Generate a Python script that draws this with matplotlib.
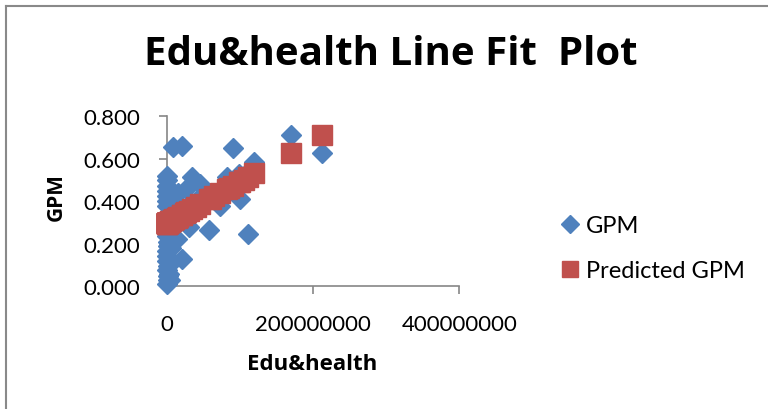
"""
Edu&health line fit plot (Excel style scatter with predicted values).
"""

import matplotlib
matplotlib.use('Agg')
from matplotlib import pyplot
from matplotlib.lines import Line2D

OUTPUT_FILE = 'out.png'
FIG_W_PX, FIG_H_PX = 768, 410
DPI = 100

BLUE = '#4F81BD'
RED = '#C0504D'
AXIS_GREY = '#868686'
FONT = ['Lato', 'DejaVu Sans']
BOLD_FONT = ['Open Sans', 'DejaVu Sans']

TITLE = 'Edu&health Line Fit  Plot'
X_LABEL = 'Edu&health'
Y_LABEL = 'GPM'
SERIES_NAMES = ['GPM', 'Predicted GPM']

X_TICKS = [0, 200000000, 400000000]
Y_TICKS = [0.0, 0.2, 0.4, 0.6, 0.8]

# Edu&health, in millions
edu_health_m = [
    0.5, 0.3, 1.0, 0.2, 0.8, 0.1, 0.6, 1.5, 0.4, 2.0, 1.2, 0.7, 3.0, 5.0,
    4.5, 8.2, 20.5, 91.0, 169.5, 212.0, 119.8, 99.0, 82.0, 34.0, 45.5,
    100.0, 73.0, 58.0, 110.7, 31.0, 20.5, 13.7, 27.0, 10.0, 15.0, 6.0,
    60.0, 65.0, 85.0, 105.0, 40.0, 25.0,
    0.3, 0.6, 0.2, 0.9, 0.4, 1.1, 0.5, 0.8, 0.3, 1.4,
]

gpm = [
    0.520, 0.473, 0.426, 0.379, 0.332, 0.285, 0.238, 0.191, 0.144, 0.097,
    0.050, 0.011, 0.060, 0.030, 0.411, 0.654, 0.662, 0.649, 0.712, 0.626,
    0.586, 0.528, 0.513, 0.513, 0.481, 0.411, 0.379, 0.265, 0.246, 0.278,
    0.128, 0.223, 0.458, 0.350, 0.440, 0.180, 0.430, 0.410, 0.470, 0.520,
    0.400, 0.330,
    0.500, 0.450, 0.400, 0.310, 0.260, 0.210, 0.165, 0.120, 0.075, 0.030,
]

predicted_gpm = [
    0.296, 0.296, 0.297, 0.295, 0.297, 0.295, 0.296, 0.298, 0.296, 0.299,
    0.297, 0.296, 0.301, 0.305, 0.304, 0.311, 0.335, 0.474, 0.629, 0.713,
    0.531, 0.490, 0.457, 0.362, 0.385, 0.492, 0.439, 0.409, 0.513, 0.356,
    0.335, 0.322, 0.348, 0.315, 0.325, 0.307, 0.413, 0.423, 0.462, 0.502,
    0.374, 0.344,
    0.296, 0.296, 0.295, 0.297, 0.296, 0.297, 0.296, 0.297, 0.296, 0.298,
]


def fx(px):
    return px / FIG_W_PX


def fy(py):
    return 1 - py / FIG_H_PX


def main():
    pyplot.rcParams['font.family'] = FONT
    edu_health = [v * 1e6 for v in edu_health_m]

    fig = pyplot.figure(figsize=(FIG_W_PX / DPI, FIG_H_PX / DPI), dpi=DPI)
    fig.patch.set_facecolor('white')

    # chart border (only left and top are visible in the crop)
    fig.add_artist(Line2D([fx(6), fx(6)], [0, fy(7)], color='#898989', lw=1.5))
    fig.add_artist(Line2D([fx(6), 1], [fy(7), fy(7)], color='#898989', lw=1.5))

    left, right = fx(166.7), fx(459.3)
    bottom, top = fy(287.3), fy(117.3)
    ax = fig.add_axes([left, bottom, right - left, top - bottom])

    ax.plot(edu_health, gpm, linestyle='none', marker='D', ms=10.5,
            color=BLUE, mec=BLUE, label=SERIES_NAMES[0], clip_on=False, zorder=3)
    ax.plot(edu_health, predicted_gpm, linestyle='none', marker='s', ms=14,
            color=RED, mec=RED, label=SERIES_NAMES[1], clip_on=False, zorder=4)

    ax.set_xlim(0, 400000000)
    ax.set_ylim(0, 0.8)
    ax.set_xticks(X_TICKS)
    ax.set_xticklabels([str(t) for t in X_TICKS])
    ax.set_yticks(Y_TICKS)
    ax.set_yticklabels(['%.3f' % t for t in Y_TICKS])

    for side in ('top', 'right'):
        ax.spines[side].set_visible(False)
    for side in ('left', 'bottom'):
        ax.spines[side].set_color(AXIS_GREY)
        ax.spines[side].set_linewidth(1.2)
        ax.spines[side].set_zorder(1)
    ax.tick_params(axis='both', colors=AXIS_GREY, width=1.2, length=6,
                   labelsize=16, labelcolor='black')
    ax.tick_params(axis='x', pad=14)
    ax.tick_params(axis='y', pad=13)

    fig.text(fx(391), fy(65), TITLE, ha='center', va='baseline',
             fontsize=29, fontweight='bold', family=BOLD_FONT)
    fig.text(fx(312), fy(370), X_LABEL, ha='center', va='baseline',
             fontsize=16, fontweight='bold', family=BOLD_FONT)
    fig.text(fx(56.5), fy(197.5), Y_LABEL, ha='center', va='center',
             rotation=90, fontsize=15, fontweight='bold', family=BOLD_FONT)

    ax.legend(loc='center left', bbox_to_anchor=(fx(562), fy(249)),
              bbox_transform=fig.transFigure, frameon=False, fontsize=17,
              handlelength=0.7, handletextpad=0.3, labelspacing=1.0,
              markerscale=0.85, borderpad=0, borderaxespad=0)

    fig.savefig(OUTPUT_FILE, dpi=DPI)


if __name__ == '__main__':
    main()
